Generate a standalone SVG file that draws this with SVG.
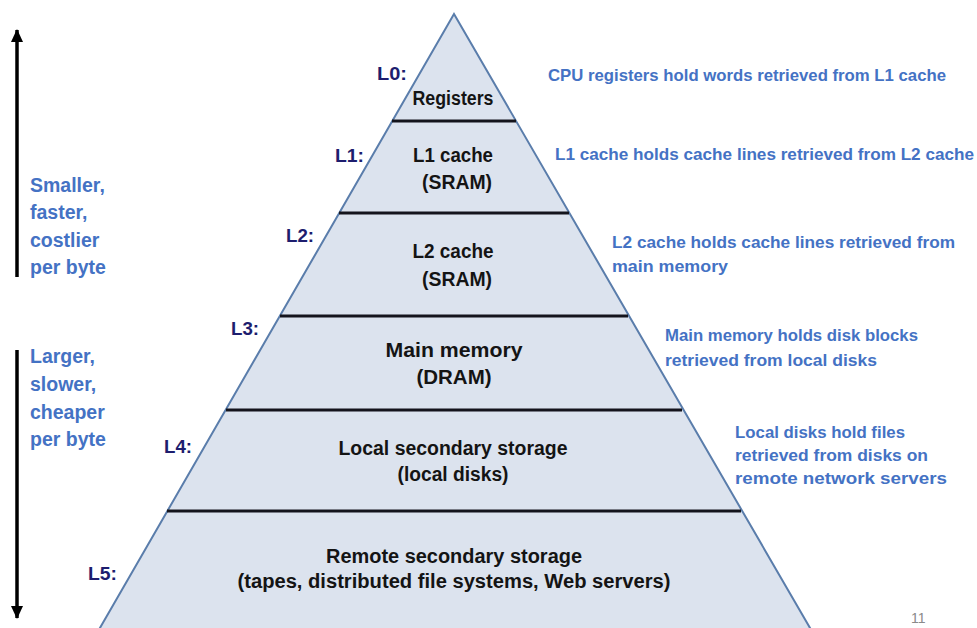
<svg xmlns="http://www.w3.org/2000/svg" width="977" height="628" viewBox="0 0 977 628">
  <defs>
    <marker id="head" markerUnits="userSpaceOnUse" markerWidth="13" markerHeight="12" viewBox="0 0 13 12" refX="12" refY="6" orient="auto">
      <path d="M0,0 L13,6 L0,12 z" fill="#000"/>
    </marker>
    <style>
      .pyr { fill: #dce3ee; stroke: #5a7dab; stroke-width: 2; }
      .sep { stroke: #14141c; stroke-width: 3; }
      .tier { font-family: "Liberation Sans", Arial, sans-serif; font-weight: bold; font-size: 20px; fill: #141414; text-anchor: middle; }
      .lvl { font-family: "Liberation Sans", Arial, sans-serif; font-weight: bold; font-size: 18px; fill: #1d1d6e; }
      .note { font-family: "Liberation Sans", Arial, sans-serif; font-weight: bold; font-size: 17px; fill: #4472c4; }
      .side { font-family: "Liberation Sans", Arial, sans-serif; font-weight: bold; font-size: 19.5px; fill: #4472c4; }
      .arrow { stroke: #000; stroke-width: 3.5; fill: none; marker-end: url(#head); }
      .pg { font-family: "Liberation Sans", Arial, sans-serif; font-size: 14px; fill: #8a8a8a; }
    </style>
  </defs>

  <rect width="977" height="628" fill="#ffffff"/>

  <!-- pyramid body -->
  <polygon class="pyr" points="454,14 93,640 817,640"/>

  <!-- tier separators -->
  <g id="separators">
    <line class="sep" x1="392" y1="121" x2="516" y2="121"/>
    <line class="sep" x1="339" y1="213" x2="569" y2="213"/>
    <line class="sep" x1="280" y1="316" x2="628" y2="316"/>
    <line class="sep" x1="226" y1="410" x2="682" y2="410"/>
    <line class="sep" x1="167" y1="511" x2="741" y2="511"/>
  </g>

  <g id="L0">
    <text class="lvl" x="377" y="80" textLength="30" lengthAdjust="spacingAndGlyphs">L0:</text>
    <text class="tier" x="453" y="105" textLength="81" lengthAdjust="spacingAndGlyphs">Registers</text>
    <text class="note" x="548" y="81" textLength="398" lengthAdjust="spacingAndGlyphs">CPU registers hold words retrieved from L1 cache</text>
  </g>

  <g id="L1">
    <text class="lvl" x="335" y="162" textLength="29" lengthAdjust="spacingAndGlyphs">L1:</text>
    <text class="tier" x="453" y="162" textLength="80" lengthAdjust="spacingAndGlyphs">L1 cache</text>
    <text class="tier" x="457" y="189" textLength="70" lengthAdjust="spacingAndGlyphs">(SRAM)</text>
    <text class="note" x="555" y="160" textLength="419" lengthAdjust="spacingAndGlyphs">L1 cache holds cache lines retrieved from L2 cache</text>
  </g>

  <g id="L2">
    <text class="lvl" x="286" y="242" textLength="28" lengthAdjust="spacingAndGlyphs">L2:</text>
    <text class="tier" x="453" y="258" textLength="81" lengthAdjust="spacingAndGlyphs">L2 cache</text>
    <text class="tier" x="457" y="286" textLength="70" lengthAdjust="spacingAndGlyphs">(SRAM)</text>
    <text class="note" x="612" y="248" textLength="343" lengthAdjust="spacingAndGlyphs">L2 cache holds cache lines retrieved from</text>
    <text class="note" x="612" y="272" textLength="116" lengthAdjust="spacingAndGlyphs">main memory</text>
  </g>

  <g id="L3">
    <text class="lvl" x="231" y="335" textLength="28" lengthAdjust="spacingAndGlyphs">L3:</text>
    <text class="tier" x="454" y="357" textLength="137" lengthAdjust="spacingAndGlyphs">Main memory</text>
    <text class="tier" x="454" y="384" textLength="75" lengthAdjust="spacingAndGlyphs">(DRAM)</text>
    <text class="note" x="665" y="341" textLength="253" lengthAdjust="spacingAndGlyphs">Main memory holds disk blocks</text>
    <text class="note" x="665" y="366" textLength="212" lengthAdjust="spacingAndGlyphs">retrieved from local disks</text>
  </g>

  <g id="L4">
    <text class="lvl" x="164" y="453" textLength="28" lengthAdjust="spacingAndGlyphs">L4:</text>
    <text class="tier" x="453" y="455" textLength="229" lengthAdjust="spacingAndGlyphs">Local secondary storage</text>
    <text class="tier" x="453" y="481" textLength="111" lengthAdjust="spacingAndGlyphs">(local disks)</text>
    <text class="note" x="735" y="438" textLength="170" lengthAdjust="spacingAndGlyphs">Local disks hold files</text>
    <text class="note" x="735" y="461" textLength="193" lengthAdjust="spacingAndGlyphs">retrieved from disks on</text>
    <text class="note" x="735" y="484" textLength="212" lengthAdjust="spacingAndGlyphs">remote network servers</text>
  </g>

  <g id="L5">
    <text class="lvl" x="88" y="580" textLength="29" lengthAdjust="spacingAndGlyphs">L5:</text>
    <text class="tier" x="454" y="563" textLength="256" lengthAdjust="spacingAndGlyphs">Remote secondary storage</text>
    <text class="tier" x="454" y="588" textLength="433" lengthAdjust="spacingAndGlyphs">(tapes, distributed file systems, Web servers)</text>
  </g>

  <!-- direction arrows -->
  <g id="connectors">
    <line class="arrow" x1="17" y1="277" x2="17" y2="30"/>
    <line class="arrow" x1="17" y1="350" x2="17" y2="618"/>
  </g>

  <g id="up-note">
    <text class="side" x="30" y="192">Smaller,</text>
    <text class="side" x="30" y="219">faster,</text>
    <text class="side" x="30" y="247">costlier</text>
    <text class="side" x="30" y="274">per byte</text>
  </g>

  <g id="down-note">
    <text class="side" x="30" y="363">Larger,</text>
    <text class="side" x="30" y="391">slower,</text>
    <text class="side" x="30" y="419">cheaper</text>
    <text class="side" x="30" y="446">per byte</text>
  </g>

  <text class="pg" x="911" y="623">11</text>
</svg>
